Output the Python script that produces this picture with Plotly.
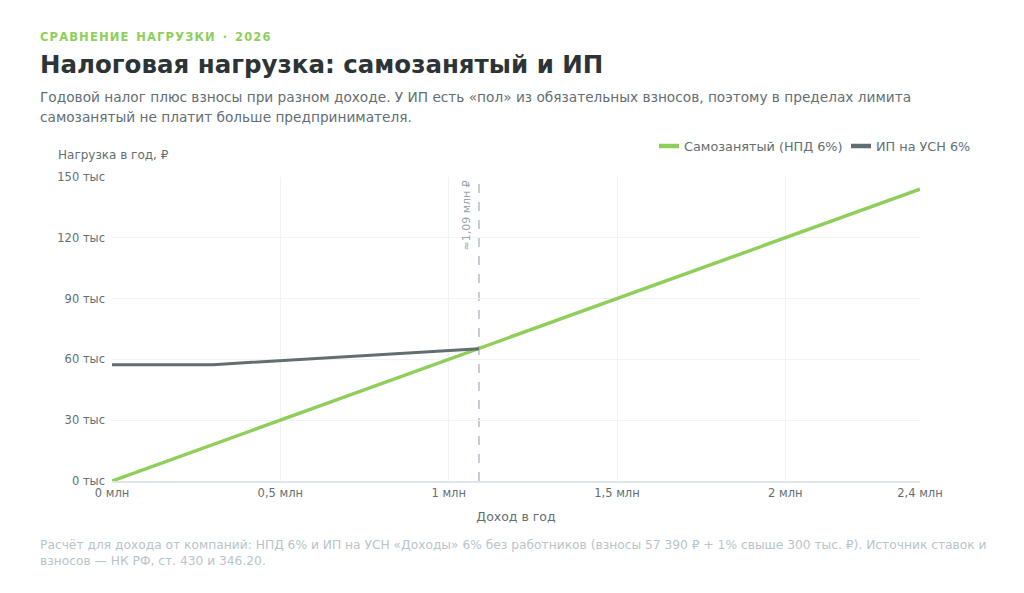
import plotly.graph_objects as go

# ---- data ----
income_npd = [0, 2400000]
load_npd = [0, 144000]
income_ip = [0, 300000, 1090000]
load_ip = [57390, 57390, 65290]
breakeven = 1090000
series_names = ["Самозанятый (НПД 6%)", "ИП на УСН 6%"]

x_tickvals = [0, 500000, 1000000, 1500000, 2000000, 2400000]
x_ticktext = ["0 млн", "0,5 млн", "1 млн", "1,5 млн", "2 млн", "2,4 млн"]
y_tickvals = [0, 30000, 60000, 90000, 120000, 150000]
y_ticktext = ["0 тыс", "30 тыс", "60 тыс", "90 тыс", "120 тыс", "150 тыс"]

W, H = 1024, 593
L, R, T, B = 112, 920, 177, 481

def px(x):
    return (x - L) / (R - L)

def py(y):
    return (B - y) / (B - T)

GREEN = "#8fce5a"
GRAY = "#636e72"
FONT = "DejaVu Sans"

fig = go.Figure()
fig.add_trace(go.Scatter(x=income_npd, y=load_npd, mode="lines", name=series_names[0],
                         line=dict(color=GREEN, width=3.5), showlegend=False))
fig.add_trace(go.Scatter(x=income_ip, y=load_ip, mode="lines", name=series_names[1],
                         line=dict(color=GRAY, width=3), showlegend=False))

shapes = [dict(type="line", x0=breakeven, x1=breakeven, y0=0, y1=1, yref="paper", xref="x",
               line=dict(color="#b2bec3", width=1.5, dash="dash"), layer="below")]
ann = []

# manual legend
for (x0, col, name) in [(659, GREEN, series_names[0]), (851, GRAY, series_names[1])]:
    shapes.append(dict(type="line", xref="paper", yref="paper", x0=px(x0), x1=px(x0 + 20),
                       y0=py(146), y1=py(146), line=dict(color=col, width=4.5)))
    ann.append(dict(x=px(x0 + 23), y=py(146), xref="paper", yref="paper", xanchor="left",
                    yanchor="middle", text=name, showarrow=False,
                    font=dict(family=FONT, size=12.8, color="#636e72")))

spaced = "\u200a".join(list("СРАВНЕНИЕ")) + "  " + "\u200a".join(list("НАГРУЗКИ")) + "  ·  " + "\u200a".join(list("2026"))

LX = 38
ann.append(dict(x=breakeven, y=1, xref="x", yref="paper", text="≈1,09 млн ₽", textangle=-90,
                xanchor="right", yanchor="top", xshift=-4, yshift=-1, showarrow=False,
                font=dict(family=FONT, size=11, color="#95a5a6")))
ann.append(dict(x=px(LX), y=py(37), xref="paper", yref="paper", xanchor="left", yanchor="middle",
                text="<b>" + spaced + "</b>",
                showarrow=False, font=dict(family=FONT, size=11.5, color=GREEN)))
ann.append(dict(x=px(LX), y=py(64), xref="paper", yref="paper", xanchor="left", yanchor="middle",
                text="<b>Налоговая нагрузка: самозанятый и ИП</b>", showarrow=False,
                font=dict(family=FONT, size=24.5, color="#2d3436")))
ann.append(dict(x=px(LX), y=py(97), xref="paper", yref="paper", xanchor="left", yanchor="middle",
                text="Годовой налог плюс взносы при разном доходе. У ИП есть «пол» из обязательных взносов, поэтому в пределах лимита",
                showarrow=False, font=dict(family=FONT, size=13.7, color="#636e72")))
ann.append(dict(x=px(LX), y=py(117), xref="paper", yref="paper", xanchor="left", yanchor="middle",
                text="самозанятый не платит больше предпринимателя.",
                showarrow=False, font=dict(family=FONT, size=13.7, color="#636e72")))
ann.append(dict(x=px(56), y=py(155), xref="paper", yref="paper", xanchor="left", yanchor="middle",
                text="Нагрузка в год, ₽", showarrow=False, font=dict(family=FONT, size=12, color="#636e72")))
ann.append(dict(x=px(LX), y=py(553), xref="paper", yref="paper", xanchor="left", yanchor="middle", align="left",
                text="Расчёт для дохода от компаний: НПД 6% и ИП на УСН «Доходы» 6% без работников (взносы 57 390 ₽ + 1% свыше 300 тыс. ₽). Источник ставок и<br>взносов — НК РФ, ст. 430 и 346.20.",
                showarrow=False, font=dict(family=FONT, size=12.25, color="#b8c4c9")))

fig.update_layout(
    width=W, height=H,
    margin=dict(l=L, r=W - R, t=T, b=H - B, autoexpand=False),
    paper_bgcolor="white", plot_bgcolor="white",
    font=dict(family=FONT, color="#636e72"),
    showlegend=False,
    annotations=ann,
    shapes=shapes,
    xaxis=dict(range=[0, 2400000], tickvals=x_tickvals, ticktext=x_ticktext, showgrid=True,
               gridcolor="#f1f2f4", zeroline=False, showline=True, linecolor="#dfe6e9", linewidth=1.5,
               ticks="", tickfont=dict(family=FONT, size=11.5, color="#636e72"),
               title=dict(text="Доход в год", font=dict(family=FONT, size=12.5, color="#636e72"), standoff=14)),
    yaxis=dict(range=[0, 150000], tickvals=y_tickvals, ticktext=y_ticktext, showgrid=True,
               gridcolor="#f1f2f4", zeroline=False, showline=False, ticks="", ticklabelstandoff=6,
               tickfont=dict(family=FONT, size=11.5, color="#636e72")),
)

fig.write_html("out.html")
